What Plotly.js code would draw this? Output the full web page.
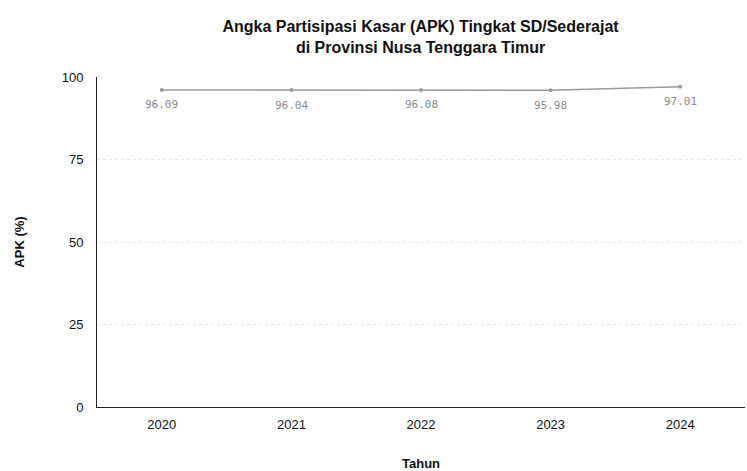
<!DOCTYPE html>
<html>
<head>
<meta charset="utf-8">
<script src="https://cdn.plot.ly/plotly-3.0.1.min.js"></script>
<style>html,body{margin:0;padding:0;background:#fff;}#chart{width:747px;height:471px;}</style>
</head>
<body>
<div id="chart"></div>
<script>
var years = ['2020', '2021', '2022', '2023', '2024'];
var apk = [96.09, 96.04, 96.08, 95.98, 97.01];
var labels = ['96.09', '96.04', '96.08', '95.98', '97.01'];

var trace = {
  x: years,
  y: apk,
  type: 'scatter',
  mode: 'lines+markers',
  line: {color: '#9a9a9a', width: 1.5},
  marker: {color: '#9a9a9a', size: 4},
  hoverinfo: 'x+y'
};

var annotations = years.map(function (yr, i) {
  return {
    x: i, y: apk[i], xref: 'x', yref: 'y',
    text: labels[i], showarrow: false,
    yshift: -15,
    font: {family: 'DejaVu Sans Mono, monospace', size: 11, color: '#8a8a8a'}
  };
});

var layout = {
  width: 747,
  height: 471,
  margin: {l: 97, r: 2, t: 77, b: 64},
  paper_bgcolor: '#ffffff',
  plot_bgcolor: '#ffffff',
  showlegend: false,
  font: {family: 'Liberation Sans, Arial, sans-serif', color: '#111'},
  annotations: annotations,
  title: {
    text: '<b>Angka Partisipasi Kasar (APK) Tingkat SD/Sederajat<br>di Provinsi Nusa Tenggara Timur</b>',
    x: 0.563, xanchor: 'center',
    y: 1 - 32 / 471, yanchor: 'middle',
    font: {size: 16, color: '#111', family: 'Liberation Sans, Arial, sans-serif'}
  },
  xaxis: {
    type: 'category',
    range: [-0.5, 4.5],
    showline: true, linecolor: '#222', linewidth: 1,
    showgrid: false,
    ticks: 'outside', ticklen: 5, tickcolor: 'rgba(0,0,0,0)',
    tickfont: {size: 13, color: '#111'},
    title: {text: '<b>Tahun</b>', font: {size: 13, color: '#111'}, standoff: 30}
  },
  yaxis: {
    range: [0, 100],
    tickvals: [0, 25, 50, 75, 100],
    showline: true, linecolor: '#222', linewidth: 1,
    showgrid: true, gridcolor: '#e6e6e6', griddash: 'dot', gridwidth: 1,
    zeroline: false,
    ticks: 'outside', ticklen: 10, tickcolor: 'rgba(0,0,0,0)',
    tickfont: {size: 13, color: '#111'},
    title: {text: '<b>APK (%)</b>', font: {size: 13, color: '#111'}, standoff: 34}
  }
};

Plotly.newPlot('chart', [trace], layout, {displayModeBar: false, staticPlot: true});
</script>
</body>
</html>
